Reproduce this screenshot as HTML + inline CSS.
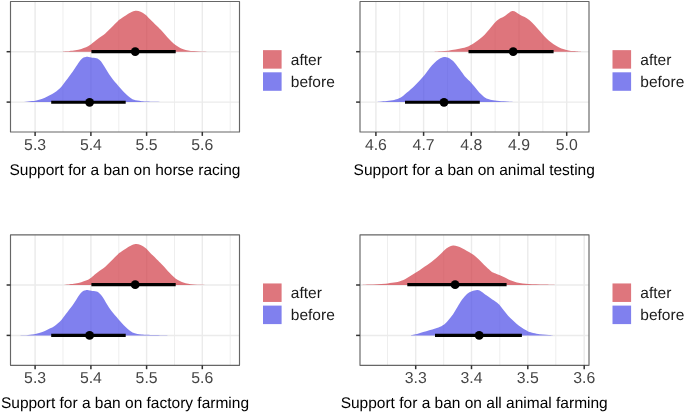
<!DOCTYPE html><html><head><meta charset="utf-8"><style>html,body{margin:0;padding:0;background:#fff;width:685px;height:412px;overflow:hidden}svg{display:block;will-change:transform}text{font-family:"Liberation Sans",sans-serif;text-rendering:geometricPrecision}</style></head><body>
<svg width="685" height="412" viewBox="0 0 685 412">
<rect width="685" height="412" fill="#fff"/>
<line x1="63.00" y1="1.50" x2="63.00" y2="132.00" stroke="#ebebeb" stroke-width="0.85"/>
<line x1="118.80" y1="1.50" x2="118.80" y2="132.00" stroke="#ebebeb" stroke-width="0.85"/>
<line x1="174.50" y1="1.50" x2="174.50" y2="132.00" stroke="#ebebeb" stroke-width="0.85"/>
<line x1="230.20" y1="1.50" x2="230.20" y2="132.00" stroke="#ebebeb" stroke-width="0.85"/>
<line x1="35.10" y1="1.50" x2="35.10" y2="132.00" stroke="#ebebeb" stroke-width="1.45"/>
<line x1="90.90" y1="1.50" x2="90.90" y2="132.00" stroke="#ebebeb" stroke-width="1.45"/>
<line x1="146.60" y1="1.50" x2="146.60" y2="132.00" stroke="#ebebeb" stroke-width="1.45"/>
<line x1="202.30" y1="1.50" x2="202.30" y2="132.00" stroke="#ebebeb" stroke-width="1.45"/>
<line x1="10.50" y1="51.70" x2="239.50" y2="51.70" stroke="#ebebeb" stroke-width="1.45"/>
<line x1="10.50" y1="102.10" x2="239.50" y2="102.10" stroke="#ebebeb" stroke-width="1.45"/>
<path d="M62.50,51.70 C63.08,51.64 64.82,51.48 66.00,51.35 C67.18,51.22 68.03,51.09 69.60,50.90 C71.17,50.71 73.45,50.53 75.40,50.20 C77.35,49.87 79.53,49.38 81.30,48.90 C83.07,48.42 84.55,47.93 86.00,47.30 C87.45,46.67 88.80,45.88 90.00,45.10 C91.20,44.32 91.65,43.82 93.20,42.60 C94.75,41.38 97.28,39.32 99.30,37.80 C101.32,36.28 103.28,35.22 105.30,33.50 C107.32,31.78 109.37,29.52 111.40,27.50 C113.43,25.48 115.82,22.93 117.50,21.40 C119.18,19.87 120.07,19.33 121.50,18.30 C122.93,17.27 124.33,16.30 126.10,15.20 C127.87,14.10 130.38,12.43 132.10,11.70 C133.82,10.97 134.98,10.80 136.40,10.80 C137.82,10.80 139.08,11.05 140.60,11.70 C142.12,12.35 143.88,13.38 145.50,14.70 C147.12,16.02 148.48,17.78 150.30,19.60 C152.12,21.42 154.78,24.02 156.40,25.60 C158.02,27.18 158.75,27.82 160.00,29.10 C161.25,30.38 162.60,31.85 163.90,33.30 C165.20,34.75 166.50,36.40 167.80,37.80 C169.10,39.20 170.42,40.48 171.70,41.70 C172.98,42.92 174.22,44.13 175.50,45.10 C176.78,46.07 178.10,46.82 179.40,47.50 C180.70,48.18 181.83,48.72 183.30,49.20 C184.77,49.68 186.42,50.08 188.20,50.40 C189.98,50.72 191.90,50.92 194.00,51.10 C196.10,51.28 198.38,51.40 200.80,51.50 C203.22,51.60 207.22,51.67 208.50,51.70 L208.50,51.70 L62.50,51.70 Z" fill="#d03b45" fill-opacity="0.7"/>
<path d="M19.00,102.10 C19.83,102.07 22.48,102.03 24.00,101.95 C25.52,101.87 26.77,101.74 28.10,101.60 C29.43,101.46 30.63,101.30 32.00,101.10 C33.37,100.90 34.97,100.67 36.30,100.40 C37.63,100.13 38.57,99.95 40.00,99.50 C41.43,99.05 43.28,98.40 44.90,97.70 C46.52,97.00 48.08,96.15 49.70,95.30 C51.32,94.45 53.18,93.52 54.60,92.60 C56.02,91.68 57.00,90.87 58.20,89.80 C59.40,88.73 60.58,87.62 61.80,86.20 C63.02,84.78 64.28,82.92 65.50,81.30 C66.72,79.68 67.88,78.12 69.10,76.50 C70.32,74.88 71.58,73.33 72.80,71.60 C74.02,69.87 75.20,67.92 76.40,66.10 C77.60,64.28 78.88,62.08 80.00,60.70 C81.12,59.32 82.13,58.43 83.10,57.80 C84.07,57.17 84.90,57.05 85.80,56.90 C86.70,56.75 87.62,56.82 88.50,56.90 C89.38,56.98 89.77,57.18 91.10,57.40 C92.43,57.62 95.08,57.75 96.50,58.20 C97.92,58.65 98.58,59.18 99.60,60.10 C100.62,61.02 101.60,62.28 102.60,63.70 C103.60,65.12 104.48,66.78 105.60,68.60 C106.72,70.42 108.08,72.78 109.30,74.60 C110.52,76.42 111.68,77.98 112.90,79.50 C114.12,81.02 115.38,82.28 116.60,83.70 C117.82,85.12 119.00,86.62 120.20,88.00 C121.40,89.38 122.58,90.75 123.80,92.00 C125.02,93.25 126.30,94.47 127.50,95.50 C128.70,96.53 129.92,97.48 131.00,98.20 C132.08,98.92 132.93,99.40 134.00,99.80 C135.07,100.20 136.10,100.37 137.40,100.60 C138.70,100.83 140.22,101.05 141.80,101.20 C143.38,101.35 144.70,101.40 146.90,101.50 C149.10,101.60 151.48,101.70 155.00,101.80 C158.52,101.90 165.83,102.05 168.00,102.10 L168.00,102.10 L19.00,102.10 Z" fill="#4a4ae7" fill-opacity="0.7"/>
<line x1="91.40" y1="51.55" x2="175.70" y2="51.55" stroke="#000" stroke-width="3.2"/>
<circle cx="135.20" cy="51.60" r="4.4" fill="#000"/>
<line x1="51.20" y1="102.25" x2="125.70" y2="102.25" stroke="#000" stroke-width="3.2"/>
<circle cx="89.60" cy="102.30" r="4.4" fill="#000"/>
<rect x="10.50" y="1.50" width="229.00" height="130.50" fill="none" stroke="#666666" stroke-width="1.15" stroke-linejoin="round"/>
<line x1="6.60" y1="51.70" x2="10.50" y2="51.70" stroke="#333333" stroke-width="1.5"/>
<line x1="6.60" y1="102.10" x2="10.50" y2="102.10" stroke="#333333" stroke-width="1.5"/>
<line x1="35.10" y1="132.00" x2="35.10" y2="135.90" stroke="#333333" stroke-width="1.5"/>
<text x="35.10" y="149.65" font-size="15.8" fill="#444444" text-anchor="middle">5.3</text>
<line x1="90.90" y1="132.00" x2="90.90" y2="135.90" stroke="#333333" stroke-width="1.5"/>
<text x="90.90" y="149.65" font-size="15.8" fill="#444444" text-anchor="middle">5.4</text>
<line x1="146.60" y1="132.00" x2="146.60" y2="135.90" stroke="#333333" stroke-width="1.5"/>
<text x="146.60" y="149.65" font-size="15.8" fill="#444444" text-anchor="middle">5.5</text>
<line x1="202.30" y1="132.00" x2="202.30" y2="135.90" stroke="#333333" stroke-width="1.5"/>
<text x="202.30" y="149.65" font-size="15.8" fill="#444444" text-anchor="middle">5.6</text>
<text x="125.00" y="174.55" font-size="15.5" fill="#000" text-anchor="middle">Support for a ban on horse racing</text>
<rect x="263.00" y="50.15" width="18.6" height="18.5" fill="#de767d"/>
<rect x="263.00" y="72.30" width="18.6" height="18.5" fill="#8080ee"/>
<text x="290.80" y="64.90" font-size="15.5" fill="#1a1a1a">after</text>
<text x="290.80" y="86.90" font-size="15.5" fill="#1a1a1a">before</text>
<line x1="399.75" y1="1.50" x2="399.75" y2="132.00" stroke="#ebebeb" stroke-width="0.85"/>
<line x1="447.45" y1="1.50" x2="447.45" y2="132.00" stroke="#ebebeb" stroke-width="0.85"/>
<line x1="495.15" y1="1.50" x2="495.15" y2="132.00" stroke="#ebebeb" stroke-width="0.85"/>
<line x1="542.85" y1="1.50" x2="542.85" y2="132.00" stroke="#ebebeb" stroke-width="0.85"/>
<line x1="375.90" y1="1.50" x2="375.90" y2="132.00" stroke="#ebebeb" stroke-width="1.45"/>
<line x1="423.60" y1="1.50" x2="423.60" y2="132.00" stroke="#ebebeb" stroke-width="1.45"/>
<line x1="471.30" y1="1.50" x2="471.30" y2="132.00" stroke="#ebebeb" stroke-width="1.45"/>
<line x1="519.00" y1="1.50" x2="519.00" y2="132.00" stroke="#ebebeb" stroke-width="1.45"/>
<line x1="566.70" y1="1.50" x2="566.70" y2="132.00" stroke="#ebebeb" stroke-width="1.45"/>
<line x1="360.00" y1="51.70" x2="589.00" y2="51.70" stroke="#ebebeb" stroke-width="1.45"/>
<line x1="360.00" y1="102.10" x2="589.00" y2="102.10" stroke="#ebebeb" stroke-width="1.45"/>
<path d="M434.00,51.70 C435.17,51.64 438.63,51.52 441.00,51.35 C443.37,51.18 445.78,50.99 448.20,50.70 C450.62,50.41 453.07,50.03 455.50,49.60 C457.93,49.17 460.60,48.67 462.80,48.10 C465.00,47.53 466.68,47.12 468.70,46.20 C470.72,45.28 473.07,43.80 474.90,42.60 C476.73,41.40 478.08,40.32 479.70,39.00 C481.32,37.68 482.98,36.32 484.60,34.70 C486.22,33.08 487.78,31.22 489.40,29.30 C491.02,27.38 492.68,24.92 494.30,23.20 C495.92,21.48 497.48,20.12 499.10,19.00 C500.72,17.88 502.38,17.52 504.00,16.50 C505.62,15.48 507.38,13.80 508.80,12.90 C510.22,12.00 511.28,11.22 512.50,11.10 C513.72,10.98 514.87,11.60 516.10,12.20 C517.33,12.80 518.47,13.88 519.90,14.70 C521.33,15.52 523.08,16.18 524.70,17.10 C526.32,18.02 527.98,18.88 529.60,20.20 C531.22,21.52 532.78,23.28 534.40,25.00 C536.02,26.72 537.68,28.68 539.30,30.50 C540.92,32.32 542.48,34.20 544.10,35.90 C545.72,37.60 547.42,39.32 549.00,40.70 C550.58,42.08 551.98,43.12 553.60,44.20 C555.22,45.28 556.97,46.35 558.70,47.20 C560.43,48.05 562.33,48.77 564.00,49.30 C565.67,49.83 567.13,50.10 568.70,50.40 C570.27,50.70 571.75,50.92 573.40,51.10 C575.05,51.28 577.17,51.40 578.60,51.50 C580.03,51.60 581.43,51.67 582.00,51.70 L582.00,51.70 L434.00,51.70 Z" fill="#d03b45" fill-opacity="0.7"/>
<path d="M370.00,102.10 C371.60,102.02 376.78,101.83 379.60,101.65 C382.42,101.47 384.47,101.29 386.90,101.00 C389.33,100.71 392.25,100.32 394.20,99.90 C396.15,99.48 397.13,99.17 398.60,98.50 C400.07,97.83 401.55,96.95 403.00,95.90 C404.45,94.85 406.13,93.20 407.30,92.20 C408.47,91.20 408.73,91.03 410.00,89.90 C411.27,88.77 413.28,86.97 414.90,85.40 C416.52,83.83 418.08,82.22 419.70,80.50 C421.32,78.78 422.98,77.12 424.60,75.10 C426.22,73.08 427.78,70.43 429.40,68.40 C431.02,66.37 432.68,64.47 434.30,62.90 C435.92,61.33 437.48,59.97 439.10,59.00 C440.72,58.03 442.58,57.35 444.00,57.10 C445.42,56.85 446.18,56.93 447.60,57.50 C449.02,58.07 451.18,59.45 452.50,60.50 C453.82,61.55 454.27,62.28 455.50,63.80 C456.73,65.32 458.37,67.53 459.90,69.60 C461.43,71.67 463.08,74.28 464.70,76.20 C466.32,78.12 467.98,79.37 469.60,81.10 C471.22,82.83 472.78,84.68 474.40,86.60 C476.02,88.52 477.68,90.88 479.30,92.60 C480.92,94.32 482.48,95.78 484.10,96.90 C485.72,98.02 487.18,98.70 489.00,99.30 C490.82,99.90 492.58,100.17 495.00,100.50 C497.42,100.83 501.00,101.08 503.50,101.30 C506.00,101.52 507.92,101.67 510.00,101.80 C512.08,101.93 515.00,102.05 516.00,102.10 L516.00,102.10 L370.00,102.10 Z" fill="#4a4ae7" fill-opacity="0.7"/>
<line x1="468.50" y1="51.55" x2="553.60" y2="51.55" stroke="#000" stroke-width="3.2"/>
<circle cx="513.20" cy="51.60" r="4.4" fill="#000"/>
<line x1="405.00" y1="102.25" x2="479.80" y2="102.25" stroke="#000" stroke-width="3.2"/>
<circle cx="444.00" cy="102.30" r="4.4" fill="#000"/>
<rect x="360.00" y="1.50" width="229.00" height="130.50" fill="none" stroke="#666666" stroke-width="1.15" stroke-linejoin="round"/>
<line x1="356.10" y1="51.70" x2="360.00" y2="51.70" stroke="#333333" stroke-width="1.5"/>
<line x1="356.10" y1="102.10" x2="360.00" y2="102.10" stroke="#333333" stroke-width="1.5"/>
<line x1="375.90" y1="132.00" x2="375.90" y2="135.90" stroke="#333333" stroke-width="1.5"/>
<text x="375.90" y="149.65" font-size="15.8" fill="#444444" text-anchor="middle">4.6</text>
<line x1="423.60" y1="132.00" x2="423.60" y2="135.90" stroke="#333333" stroke-width="1.5"/>
<text x="423.60" y="149.65" font-size="15.8" fill="#444444" text-anchor="middle">4.7</text>
<line x1="471.30" y1="132.00" x2="471.30" y2="135.90" stroke="#333333" stroke-width="1.5"/>
<text x="471.30" y="149.65" font-size="15.8" fill="#444444" text-anchor="middle">4.8</text>
<line x1="519.00" y1="132.00" x2="519.00" y2="135.90" stroke="#333333" stroke-width="1.5"/>
<text x="519.00" y="149.65" font-size="15.8" fill="#444444" text-anchor="middle">4.9</text>
<line x1="566.70" y1="132.00" x2="566.70" y2="135.90" stroke="#333333" stroke-width="1.5"/>
<text x="566.70" y="149.65" font-size="15.8" fill="#444444" text-anchor="middle">5.0</text>
<text x="474.20" y="174.55" font-size="15.5" fill="#000" text-anchor="middle">Support for a ban on animal testing</text>
<rect x="612.50" y="50.15" width="18.6" height="18.5" fill="#de767d"/>
<rect x="612.50" y="72.30" width="18.6" height="18.5" fill="#8080ee"/>
<text x="640.30" y="64.90" font-size="15.5" fill="#1a1a1a">after</text>
<text x="640.30" y="86.90" font-size="15.5" fill="#1a1a1a">before</text>
<line x1="63.00" y1="234.80" x2="63.00" y2="365.30" stroke="#ebebeb" stroke-width="0.85"/>
<line x1="118.80" y1="234.80" x2="118.80" y2="365.30" stroke="#ebebeb" stroke-width="0.85"/>
<line x1="174.50" y1="234.80" x2="174.50" y2="365.30" stroke="#ebebeb" stroke-width="0.85"/>
<line x1="230.20" y1="234.80" x2="230.20" y2="365.30" stroke="#ebebeb" stroke-width="0.85"/>
<line x1="35.10" y1="234.80" x2="35.10" y2="365.30" stroke="#ebebeb" stroke-width="1.45"/>
<line x1="90.90" y1="234.80" x2="90.90" y2="365.30" stroke="#ebebeb" stroke-width="1.45"/>
<line x1="146.60" y1="234.80" x2="146.60" y2="365.30" stroke="#ebebeb" stroke-width="1.45"/>
<line x1="202.30" y1="234.80" x2="202.30" y2="365.30" stroke="#ebebeb" stroke-width="1.45"/>
<line x1="10.50" y1="285.00" x2="239.50" y2="285.00" stroke="#ebebeb" stroke-width="1.45"/>
<line x1="10.50" y1="335.40" x2="239.50" y2="335.40" stroke="#ebebeb" stroke-width="1.45"/>
<path d="M62.50,285.00 C63.08,284.94 64.82,284.78 66.00,284.65 C67.18,284.52 68.03,284.39 69.60,284.20 C71.17,284.01 73.45,283.83 75.40,283.50 C77.35,283.17 79.53,282.68 81.30,282.20 C83.07,281.72 84.55,281.23 86.00,280.60 C87.45,279.97 88.80,279.18 90.00,278.40 C91.20,277.62 91.65,277.12 93.20,275.90 C94.75,274.68 97.28,272.62 99.30,271.10 C101.32,269.58 103.28,268.52 105.30,266.80 C107.32,265.08 109.37,262.82 111.40,260.80 C113.43,258.78 115.82,256.23 117.50,254.70 C119.18,253.17 120.07,252.63 121.50,251.60 C122.93,250.57 124.33,249.60 126.10,248.50 C127.87,247.40 130.38,245.73 132.10,245.00 C133.82,244.27 134.98,244.10 136.40,244.10 C137.82,244.10 139.08,244.35 140.60,245.00 C142.12,245.65 143.88,246.68 145.50,248.00 C147.12,249.32 148.48,251.08 150.30,252.90 C152.12,254.72 154.78,257.32 156.40,258.90 C158.02,260.48 158.75,261.12 160.00,262.40 C161.25,263.68 162.60,265.15 163.90,266.60 C165.20,268.05 166.50,269.70 167.80,271.10 C169.10,272.50 170.42,273.78 171.70,275.00 C172.98,276.22 174.22,277.43 175.50,278.40 C176.78,279.37 178.10,280.12 179.40,280.80 C180.70,281.48 181.83,282.02 183.30,282.50 C184.77,282.98 186.42,283.38 188.20,283.70 C189.98,284.02 191.90,284.22 194.00,284.40 C196.10,284.58 198.38,284.70 200.80,284.80 C203.22,284.90 207.22,284.97 208.50,285.00 L208.50,285.00 L62.50,285.00 Z" fill="#d03b45" fill-opacity="0.7"/>
<path d="M19.00,335.40 C19.83,335.38 22.48,335.33 24.00,335.25 C25.52,335.17 26.77,335.04 28.10,334.90 C29.43,334.76 30.63,334.60 32.00,334.40 C33.37,334.20 34.97,333.97 36.30,333.70 C37.63,333.43 38.57,333.25 40.00,332.80 C41.43,332.35 43.28,331.70 44.90,331.00 C46.52,330.30 48.08,329.45 49.70,328.60 C51.32,327.75 53.18,326.82 54.60,325.90 C56.02,324.98 57.00,324.17 58.20,323.10 C59.40,322.03 60.58,320.92 61.80,319.50 C63.02,318.08 64.28,316.22 65.50,314.60 C66.72,312.98 67.88,311.42 69.10,309.80 C70.32,308.18 71.58,306.63 72.80,304.90 C74.02,303.17 75.20,301.22 76.40,299.40 C77.60,297.58 78.88,295.38 80.00,294.00 C81.12,292.62 82.13,291.73 83.10,291.10 C84.07,290.47 84.90,290.35 85.80,290.20 C86.70,290.05 87.62,290.12 88.50,290.20 C89.38,290.28 89.77,290.48 91.10,290.70 C92.43,290.92 95.08,291.05 96.50,291.50 C97.92,291.95 98.58,292.48 99.60,293.40 C100.62,294.32 101.60,295.58 102.60,297.00 C103.60,298.42 104.48,300.08 105.60,301.90 C106.72,303.72 108.08,306.08 109.30,307.90 C110.52,309.72 111.68,311.28 112.90,312.80 C114.12,314.32 115.38,315.58 116.60,317.00 C117.82,318.42 119.00,319.92 120.20,321.30 C121.40,322.68 122.58,324.05 123.80,325.30 C125.02,326.55 126.30,327.77 127.50,328.80 C128.70,329.83 129.92,330.78 131.00,331.50 C132.08,332.22 132.93,332.70 134.00,333.10 C135.07,333.50 136.10,333.67 137.40,333.90 C138.70,334.13 140.22,334.35 141.80,334.50 C143.38,334.65 144.70,334.70 146.90,334.80 C149.10,334.90 151.48,335.00 155.00,335.10 C158.52,335.20 165.83,335.35 168.00,335.40 L168.00,335.40 L19.00,335.40 Z" fill="#4a4ae7" fill-opacity="0.7"/>
<line x1="91.40" y1="284.65" x2="175.70" y2="284.65" stroke="#000" stroke-width="3.2"/>
<circle cx="135.20" cy="284.70" r="4.4" fill="#000"/>
<line x1="51.20" y1="335.35" x2="125.70" y2="335.35" stroke="#000" stroke-width="3.2"/>
<circle cx="89.60" cy="335.40" r="4.4" fill="#000"/>
<rect x="10.50" y="234.80" width="229.00" height="130.50" fill="none" stroke="#666666" stroke-width="1.15" stroke-linejoin="round"/>
<line x1="6.60" y1="285.00" x2="10.50" y2="285.00" stroke="#333333" stroke-width="1.5"/>
<line x1="6.60" y1="335.40" x2="10.50" y2="335.40" stroke="#333333" stroke-width="1.5"/>
<line x1="35.10" y1="365.30" x2="35.10" y2="369.20" stroke="#333333" stroke-width="1.5"/>
<text x="35.10" y="382.95" font-size="15.8" fill="#444444" text-anchor="middle">5.3</text>
<line x1="90.90" y1="365.30" x2="90.90" y2="369.20" stroke="#333333" stroke-width="1.5"/>
<text x="90.90" y="382.95" font-size="15.8" fill="#444444" text-anchor="middle">5.4</text>
<line x1="146.60" y1="365.30" x2="146.60" y2="369.20" stroke="#333333" stroke-width="1.5"/>
<text x="146.60" y="382.95" font-size="15.8" fill="#444444" text-anchor="middle">5.5</text>
<line x1="202.30" y1="365.30" x2="202.30" y2="369.20" stroke="#333333" stroke-width="1.5"/>
<text x="202.30" y="382.95" font-size="15.8" fill="#444444" text-anchor="middle">5.6</text>
<text x="125.00" y="407.65" font-size="15.5" fill="#000" text-anchor="middle">Support for a ban on factory farming</text>
<rect x="263.00" y="283.45" width="18.6" height="18.5" fill="#de767d"/>
<rect x="263.00" y="305.60" width="18.6" height="18.5" fill="#8080ee"/>
<text x="290.80" y="298.20" font-size="15.5" fill="#1a1a1a">after</text>
<text x="290.80" y="320.20" font-size="15.5" fill="#1a1a1a">before</text>
<line x1="387.50" y1="234.80" x2="387.50" y2="365.30" stroke="#ebebeb" stroke-width="0.85"/>
<line x1="443.70" y1="234.80" x2="443.70" y2="365.30" stroke="#ebebeb" stroke-width="0.85"/>
<line x1="499.80" y1="234.80" x2="499.80" y2="365.30" stroke="#ebebeb" stroke-width="0.85"/>
<line x1="555.80" y1="234.80" x2="555.80" y2="365.30" stroke="#ebebeb" stroke-width="0.85"/>
<line x1="415.70" y1="234.80" x2="415.70" y2="365.30" stroke="#ebebeb" stroke-width="1.45"/>
<line x1="471.50" y1="234.80" x2="471.50" y2="365.30" stroke="#ebebeb" stroke-width="1.45"/>
<line x1="527.80" y1="234.80" x2="527.80" y2="365.30" stroke="#ebebeb" stroke-width="1.45"/>
<line x1="584.20" y1="234.80" x2="584.20" y2="365.30" stroke="#ebebeb" stroke-width="1.45"/>
<line x1="360.00" y1="285.00" x2="589.00" y2="285.00" stroke="#ebebeb" stroke-width="1.45"/>
<line x1="360.00" y1="335.40" x2="589.00" y2="335.40" stroke="#ebebeb" stroke-width="1.45"/>
<path d="M362.00,285.00 C363.22,284.93 366.80,284.72 369.30,284.60 C371.80,284.48 374.30,284.45 377.00,284.30 C379.70,284.15 382.67,283.98 385.50,283.70 C388.33,283.42 391.47,283.07 394.00,282.60 C396.53,282.13 398.87,281.47 400.70,280.90 C402.53,280.33 403.47,279.98 405.00,279.20 C406.53,278.42 408.28,277.20 409.90,276.20 C411.52,275.20 413.08,274.20 414.70,273.20 C416.32,272.20 417.98,271.27 419.60,270.20 C421.22,269.13 422.78,267.92 424.40,266.80 C426.02,265.68 427.68,264.67 429.30,263.50 C430.92,262.33 432.48,261.12 434.10,259.80 C435.72,258.48 437.38,257.12 439.00,255.60 C440.62,254.08 442.18,252.12 443.80,250.70 C445.42,249.28 447.17,247.95 448.70,247.10 C450.23,246.25 451.57,245.73 453.00,245.60 C454.43,245.47 455.78,245.85 457.30,246.30 C458.82,246.75 460.48,247.50 462.10,248.30 C463.72,249.10 465.38,250.18 467.00,251.10 C468.62,252.02 470.18,252.75 471.80,253.80 C473.42,254.85 475.07,255.98 476.70,257.40 C478.33,258.82 479.98,260.68 481.60,262.30 C483.22,263.92 484.78,265.58 486.40,267.10 C488.02,268.62 489.87,270.37 491.30,271.40 C492.73,272.43 493.65,272.68 495.00,273.30 C496.35,273.92 497.93,274.48 499.40,275.10 C500.87,275.72 502.35,276.32 503.80,277.00 C505.25,277.68 506.65,278.52 508.10,279.20 C509.55,279.88 511.03,280.57 512.50,281.10 C513.97,281.63 515.20,282.02 516.90,282.40 C518.60,282.78 520.75,283.15 522.70,283.40 C524.65,283.65 526.40,283.75 528.60,283.90 C530.80,284.05 533.17,284.18 535.90,284.30 C538.63,284.42 541.82,284.48 545.00,284.60 C548.18,284.72 553.33,284.93 555.00,285.00 L555.00,285.00 L362.00,285.00 Z" fill="#d03b45" fill-opacity="0.7"/>
<path d="M411.00,335.40 C411.22,335.33 411.28,335.23 412.30,335.00 C413.32,334.77 415.28,334.50 417.10,334.00 C418.92,333.50 421.17,332.63 423.20,332.00 C425.23,331.37 427.28,330.80 429.30,330.20 C431.32,329.60 433.28,329.07 435.30,328.40 C437.32,327.73 439.78,326.97 441.40,326.20 C443.02,325.43 443.78,324.87 445.00,323.80 C446.22,322.73 447.48,321.22 448.70,319.80 C449.92,318.38 451.27,316.73 452.30,315.30 C453.33,313.87 453.67,313.22 454.90,311.20 C456.13,309.18 458.08,305.65 459.70,303.20 C461.32,300.75 462.98,298.32 464.60,296.50 C466.22,294.68 467.78,293.30 469.40,292.30 C471.02,291.30 472.88,290.87 474.30,290.50 C475.72,290.13 476.68,289.90 477.90,290.10 C479.12,290.30 480.18,290.83 481.60,291.70 C483.02,292.57 484.78,294.13 486.40,295.30 C488.02,296.47 489.87,297.72 491.30,298.70 C492.73,299.68 493.65,300.18 495.00,301.20 C496.35,302.22 497.95,303.28 499.40,304.80 C500.85,306.32 502.25,308.48 503.70,310.30 C505.15,312.12 506.63,314.07 508.10,315.70 C509.57,317.33 511.05,318.73 512.50,320.10 C513.95,321.47 515.35,322.72 516.80,323.90 C518.25,325.08 519.73,326.20 521.20,327.20 C522.67,328.20 524.15,329.08 525.60,329.90 C527.05,330.72 528.08,331.45 529.90,332.10 C531.72,332.75 534.32,333.38 536.50,333.80 C538.68,334.22 540.92,334.38 543.00,334.60 C545.08,334.82 547.33,334.97 549.00,335.10 C550.67,335.23 552.33,335.35 553.00,335.40 L553.00,335.40 L411.00,335.40 Z" fill="#4a4ae7" fill-opacity="0.7"/>
<line x1="407.30" y1="284.65" x2="506.60" y2="284.65" stroke="#000" stroke-width="3.2"/>
<circle cx="455.10" cy="284.70" r="4.4" fill="#000"/>
<line x1="435.00" y1="335.35" x2="521.90" y2="335.35" stroke="#000" stroke-width="3.2"/>
<circle cx="479.20" cy="335.40" r="4.4" fill="#000"/>
<rect x="360.00" y="234.80" width="229.00" height="130.50" fill="none" stroke="#666666" stroke-width="1.15" stroke-linejoin="round"/>
<line x1="356.10" y1="285.00" x2="360.00" y2="285.00" stroke="#333333" stroke-width="1.5"/>
<line x1="356.10" y1="335.40" x2="360.00" y2="335.40" stroke="#333333" stroke-width="1.5"/>
<line x1="415.70" y1="365.30" x2="415.70" y2="369.20" stroke="#333333" stroke-width="1.5"/>
<text x="415.70" y="382.95" font-size="15.8" fill="#444444" text-anchor="middle">3.3</text>
<line x1="471.50" y1="365.30" x2="471.50" y2="369.20" stroke="#333333" stroke-width="1.5"/>
<text x="471.50" y="382.95" font-size="15.8" fill="#444444" text-anchor="middle">3.4</text>
<line x1="527.80" y1="365.30" x2="527.80" y2="369.20" stroke="#333333" stroke-width="1.5"/>
<text x="527.80" y="382.95" font-size="15.8" fill="#444444" text-anchor="middle">3.5</text>
<line x1="584.20" y1="365.30" x2="584.20" y2="369.20" stroke="#333333" stroke-width="1.5"/>
<text x="584.20" y="382.95" font-size="15.8" fill="#444444" text-anchor="middle">3.6</text>
<text x="474.20" y="407.65" font-size="15.5" fill="#000" text-anchor="middle">Support for a ban on all animal farming</text>
<rect x="612.50" y="283.45" width="18.6" height="18.5" fill="#de767d"/>
<rect x="612.50" y="305.60" width="18.6" height="18.5" fill="#8080ee"/>
<text x="640.30" y="298.20" font-size="15.5" fill="#1a1a1a">after</text>
<text x="640.30" y="320.20" font-size="15.5" fill="#1a1a1a">before</text>
</svg></body></html>
